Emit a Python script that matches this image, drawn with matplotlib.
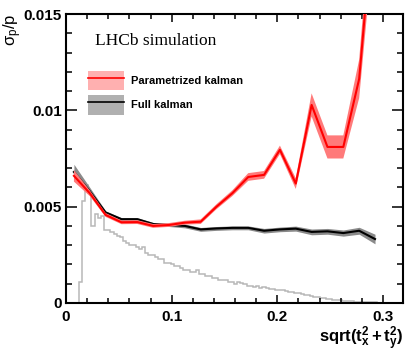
import numpy as np
import matplotlib
matplotlib.use("Agg")
import matplotlib.pyplot as plt
from matplotlib.patches import Patch
from matplotlib.lines import Line2D
from matplotlib.ticker import MultipleLocator, FuncFormatter

plt.rcParams['font.family'] = ['Liberation Sans', 'DejaVu Sans']
plt.rcParams['mathtext.fontset'] = 'custom'
plt.rcParams['mathtext.rm'] = 'Liberation Sans'
plt.rcParams['mathtext.bf'] = 'Liberation Sans:bold'
plt.rcParams['mathtext.it'] = 'Liberation Sans:italic'

# ---- data ----
slope = [0.0075, 0.0225, 0.0375, 0.0525, 0.0675, 0.0825, 0.0975, 0.1125, 0.1275, 0.1425,
         0.1575, 0.1725, 0.1875, 0.2025, 0.2175, 0.2325, 0.2475, 0.2625, 0.2775, 0.2925]
param_res = [0.0066, 0.0057, 0.00457, 0.00419, 0.0042, 0.0040, 0.00405, 0.00417, 0.00422, 0.0050,
             0.0057, 0.00654, 0.00665, 0.00795, 0.0062, 0.01028, 0.0081, 0.0081, 0.01163, 0.0210]
param_err = [0.0003, 0.00015, 0.0001, 0.0001, 0.0001, 0.0001, 0.0001, 0.0001, 0.00012, 0.00013,
             0.00015, 0.0002, 0.0002, 0.00022, 0.00028, 0.0006, 0.0006, 0.0006, 0.0010, 0.0016]
full_res = [0.0068, 0.0058, 0.0047, 0.00435, 0.00435, 0.0041, 0.00405, 0.0040, 0.00382, 0.00387,
            0.0039, 0.0039, 0.00375, 0.00382, 0.00386, 0.00369, 0.00372, 0.00363, 0.00375, 0.00332]
full_err = [0.0004, 0.0002, 0.00008, 0.00008, 0.00008, 0.00008, 0.00008, 0.0001, 0.0001, 0.0001,
            0.0001, 0.0001, 0.00012, 0.00012, 0.00013, 0.00015, 0.00015, 0.00016, 0.00018, 0.00025]

hist_edges_lo, hist_edges_hi, hist_nbins = 0.0, 0.3, 100
hist_vals = [0, 0, 0, 0, 0.0011, 0.0053, 0.0061, 0.0057, 0.0040, 0.0046,
             0.0044, 0.0045, 0.0038, 0.0038, 0.0037, 0.0036, 0.0035, 0.0034, 0.0032, 0.0031,
             0.0030, 0.0030, 0.0029, 0.0028, 0.0029, 0.0026, 0.0025, 0.0025, 0.0024, 0.0023,
             0.0023, 0.0021, 0.0021, 0.0020, 0.0019, 0.0019, 0.0018, 0.0017, 0.0017, 0.0016,
             0.0016, 0.0017, 0.0015, 0.0015, 0.0014, 0.0014, 0.0013, 0.0013, 0.0012, 0.0012,
             0.0012, 0.0011, 0.0011, 0.0010, 0.0011, 0.00105, 0.0010, 0.0009, 0.0009, 0.00085,
             0.0009, 0.0008, 0.00085, 0.0008, 0.00075, 0.00075, 0.0007, 0.00068, 0.00065, 0.0006,
             0.00058, 0.00055, 0.0005, 0.0005, 0.00045, 0.00042, 0.0004, 0.00036, 0.00033, 0.0003,
             0.00027, 0.00024, 0.00022, 0.0002, 0.00017, 0.00015, 0.00014, 0.00012, 0.00011, 0.0001,
             0.00008, 0.00007, 0.00006, 0.00005, 0.00005, 0.00004, 0.00003, 0.00003, 0.00002, 0.00001]

labels = ["Parametrized kalman", "Full kalman"]

# ---- figure ----
fig = plt.figure(figsize=(4.06, 3.52), dpi=100)
ax = fig.add_axes([66/406, 1-303/352, 337/406, 289/352])

x = np.array(slope)
pr, pe = np.array(param_res), np.array(param_err)
fr, fe = np.array(full_res), np.array(full_err)

edges = np.linspace(hist_edges_lo, hist_edges_hi, hist_nbins + 1)
ax.stairs(hist_vals, edges, color='#b8b8b8', lw=1.1, zorder=1)

ax.fill_between(x, fr - fe, fr + fe, color='#8a8a8a', lw=0, zorder=2)
ax.plot(x, fr, color='black', lw=1.5, zorder=3)
ax.fill_between(x, pr - pe, pr + pe, color='#ff7a7a', lw=0, zorder=4)
ax.plot(x, pr, color='#ff0000', lw=1.5, zorder=5)

ax.set_xlim(0, 0.319)
ax.set_ylim(0, 0.015)

ax.xaxis.set_major_locator(MultipleLocator(0.1))
ax.xaxis.set_minor_locator(MultipleLocator(0.02))
ax.yaxis.set_major_locator(MultipleLocator(0.005))
ax.yaxis.set_minor_locator(MultipleLocator(0.001))
ax.xaxis.set_major_formatter(FuncFormatter(lambda v, p: '0' if abs(v) < 1e-9 else f'{v:g}'))
ax.yaxis.set_major_formatter(FuncFormatter(lambda v, p: '0' if abs(v) < 1e-9 else f'{v:g}'))

ax.tick_params(axis='both', which='both', direction='in', top=True, right=True, width=1.1)
ax.tick_params(axis='x', which='major', length=6, labelsize=11, pad=5)
ax.tick_params(axis='x', which='minor', length=3.5)
ax.tick_params(axis='y', which='major', length=8, labelsize=11, pad=3)
ax.tick_params(axis='y', which='minor', length=4.5)
for lab in ax.get_xticklabels() + ax.get_yticklabels():
    lab.set_fontweight('bold')
for s in ax.spines.values():
    s.set_linewidth(1.5)

ax.set_xlabel(r'$\mathbf{sqrt(t_x^2+t_y^2)}$', fontsize=12, ha='right')
ax.xaxis.set_label_coords(1.0, -0.074)
ax.set_ylabel(r'$\mathregular{\sigma_p/p}$', fontsize=12, loc='top', labelpad=0)

ax.text(0.085, 0.905, 'LHCb simulation', transform=ax.transAxes, fontsize=12.5,
        family='Liberation Serif', va='center', ha='left')

handles = [(Patch(facecolor='#ffb0b0', edgecolor='none'), Line2D([], [], color='#ff0000', lw=1.2)),
           (Patch(facecolor='#b0b0b0', edgecolor='none'), Line2D([], [], color='black', lw=1.2))]
leg = ax.legend(handles, labels, loc='upper left', bbox_to_anchor=(22/337, (303-71)/289),
                frameon=False, borderpad=0, borderaxespad=0,
                handlelength=3.2, handleheight=2.3, labelspacing=0.45, handletextpad=0.7,
                prop={'weight': 'bold', 'size': 8})

fig.savefig('out.png', dpi=100)
